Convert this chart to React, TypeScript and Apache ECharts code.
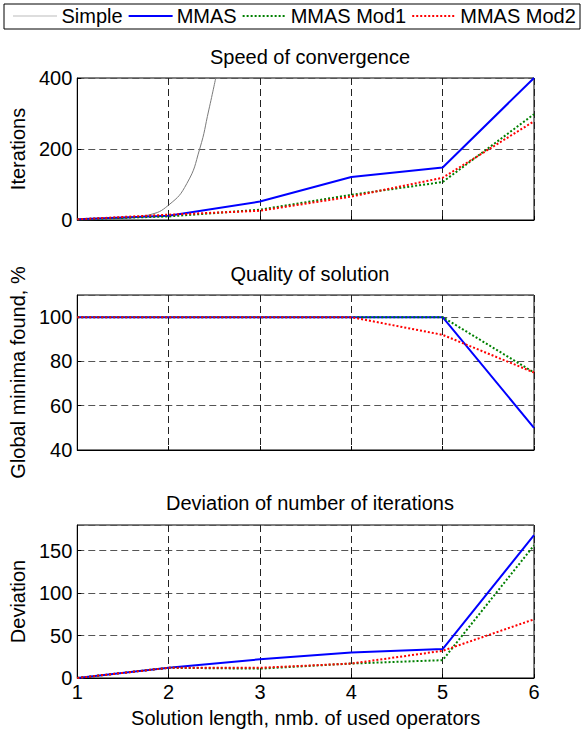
import React, { useEffect, useRef } from "react";
import * as echarts from "echarts";

const xValues = [1, 2, 3, 4, 5, 6];
const seriesNames = ["Simple", "MMAS", "MMAS Mod1", "MMAS Mod2"];

// Speed of convergence (Iterations)
const simpleX = [1, 1.5, 1.78, 2, 2.2, 2.34, 2.44, 2.52];
const simpleIter = [0, 5, 14, 42, 103, 200, 310, 405];
const mmasIter = [2, 12, 52, 121, 148, 400];
const mod1Iter = [2, 10, 29, 71, 107, 298];
const mod2Iter = [2, 15, 26, 66, 119, 278];

// Quality of solution (Global minima found, %)
const mmasQuality = [100, 100, 100, 100, 100, 50];
const mod1Quality = [100, 100, 100, 100, 100, 75];
const mod2Quality = [100, 100, 100, 100, 92, 75];

// Deviation of number of iterations
const mmasDev = [0, 12, 22, 30, 34, 168];
const mod1Dev = [0, 12, 11, 17, 21, 156];
const mod2Dev = [0, 12, 12, 17, 32, 69];

const titles = ["Speed of convergence", "Quality of solution", "Deviation of number of iterations"];
const yNames = ["Iterations", "Global minima found, %", "Deviation"];
const xName = "Solution length, nmb. of used operators";

const FONT = "'Liberation Sans', Arial, sans-serif";

const pairs = (xs: number[], ys: number[]) => xs.map((x, i) => [x, ys[i]]);

export default function App() {
  const ref = useRef<HTMLDivElement>(null);
  useEffect(() => {
    if (!ref.current) return;
    const chart = echarts.init(ref.current, null, { renderer: "svg" });
    const gridTops = [78, 295, 525];
    const gridHeights = [142, 155, 153];
    const yCfg = [
      { min: 0, max: 400, interval: 200 },
      { min: 40, max: 110, interval: 20 },
      { min: 0, max: 180, interval: 50 },
    ];
    const ySplit = { show: true, lineStyle: { color: "#555", type: [7, 4], width: 1 } };
    const xSplit = { show: true, lineStyle: { color: "#222", type: [7, 4], width: 1 } };
    const colors = { simple: "#7a7a7a", mmas: "#0000ff", mod1: "#008000", mod2: "#ff0000" };
    const mk = (name: string, idx: number, data: number[][], color: string, type: any, width: number, smooth = false) => ({
      name,
      type: "line",
      xAxisIndex: idx,
      yAxisIndex: idx,
      data,
      smooth,
      symbol: "none",
      clip: true,
      lineStyle: { color, type, width },
      itemStyle: { color },
    });
    const option: any = {
      animation: false,
      textStyle: { fontFamily: FONT },
      title: titles.map((t, i) => ({
        text: t,
        left: 305,
        textAlign: "center",
        top: [42, 259, 488][i],
        textStyle: { fontSize: 20, fontWeight: "normal", color: "#000", fontFamily: FONT },
      })),
      legend: {
        data: [
          { name: seriesNames[0], lineStyle: { type: "dotted", width: 1, color: "#777" } },
          { name: seriesNames[1] },
          { name: seriesNames[2] },
          { name: seriesNames[3] },
        ],
        left: 13,
        top: 6,
        itemWidth: 44,
        itemHeight: 14,
        itemGap: 5,
        itemStyle: { opacity: 0 },
        textStyle: { fontSize: 20, color: "#000", fontFamily: FONT, padding: [0, 0, 0, -1] },
        padding: 0,
      },
      graphic: [
        { type: "rect", shape: { x: 4, y: 4, width: 576, height: 25 }, style: { fill: "none", stroke: "#000", lineWidth: 1 } },
      ],
      grid: gridTops.map((t, i) => ({
        left: 76,
        top: t,
        width: 458,
        height: gridHeights[i],
        show: true,
        borderColor: "#000",
        borderWidth: 1,
        backgroundColor: "#fff",
      })),
      xAxis: [0, 1, 2].map((i) => ({
        type: "value",
        gridIndex: i,
        min: 1,
        max: 6,
        interval: 1,
        axisLine: { show: true, lineStyle: { color: "#000", width: 1 } },
        axisTick: { show: true, inside: true, length: 4, lineStyle: { color: "#000" } },
        axisLabel: { show: i === 2, fontSize: 20, color: "#000", margin: 4, fontFamily: FONT },
        splitLine: xSplit,
        name: i === 2 ? xName : "",
        nameLocation: "middle",
        nameGap: 30,
        nameTextStyle: { fontSize: 20, color: "#000", fontFamily: FONT },
      })),
      yAxis: [0, 1, 2].map((i) => ({
        type: "value",
        gridIndex: i,
        ...yCfg[i],
        axisLine: { show: true, lineStyle: { color: "#000", width: 1 } },
        axisTick: { show: true, inside: true, length: 4, lineStyle: { color: "#000" } },
        axisLabel: { fontSize: 20, color: "#000", margin: 5, showMaxLabel: i === 0, fontFamily: FONT },
        splitLine: ySplit,
        name: yNames[i],
        nameLocation: "middle",
        nameGap: 48,
        nameRotate: 90,
        nameTextStyle: { fontSize: 20, color: "#000", fontFamily: FONT },
      })),
      series: [
        mk("Simple", 0, pairs(simpleX, simpleIter), colors.simple, "solid", 1, true),
        mk("MMAS", 0, pairs(xValues, mmasIter), colors.mmas, "solid", 2),
        mk("MMAS Mod1", 0, pairs(xValues, mod1Iter), colors.mod1, "dotted", 2),
        mk("MMAS Mod2", 0, pairs(xValues, mod2Iter), colors.mod2, "dotted", 2),
        mk("MMAS", 1, pairs(xValues, mmasQuality), colors.mmas, "solid", 2),
        mk("MMAS Mod1", 1, pairs(xValues, mod1Quality), colors.mod1, "dotted", 2),
        mk("MMAS Mod2", 1, pairs(xValues, mod2Quality), colors.mod2, "dotted", 2),
        mk("MMAS", 2, pairs(xValues, mmasDev), colors.mmas, "solid", 2),
        mk("MMAS Mod1", 2, pairs(xValues, mod1Dev), colors.mod1, "dotted", 2),
        mk("MMAS Mod2", 2, pairs(xValues, mod2Dev), colors.mod2, "dotted", 2),
      ],
    };
    chart.setOption(option);
    return () => chart.dispose();
  }, []);
  return <div ref={ref} style={{ width: 583, height: 733, position: "absolute", left: 0, top: 0, background: "#fff" }} />;
}
